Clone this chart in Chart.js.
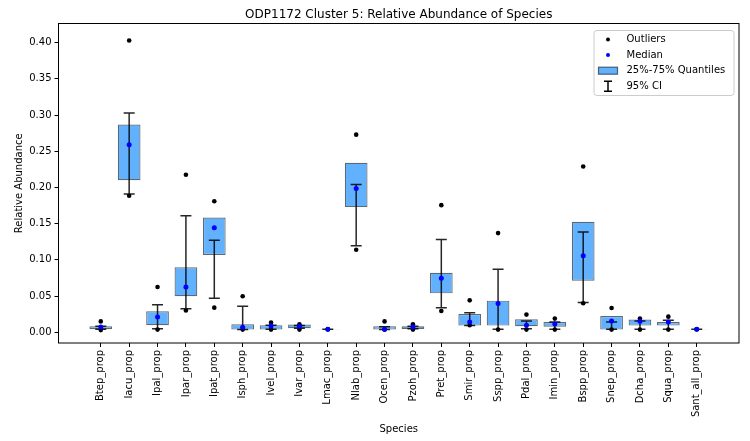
<!DOCTYPE html>
<html>
<head>
<meta charset="utf-8">
<script src="https://cdn.jsdelivr.net/npm/chart.js@4"></script>
<style>
  html, body { margin: 0; padding: 0; background: #fff; }
  #wrap { width: 750px; height: 441px; }
</style>
</head>
<body>
<div id="wrap"><canvas id="chart" width="750" height="441"></canvas></div>
<script>
// species on the x axis
const species = ['Btep_prop', 'Iacu_prop', 'Ipal_prop', 'Ipar_prop', 'Ipat_prop', 'Isph_prop',
  'Ivel_prop', 'Ivar_prop', 'Lmac_prop', 'Nlab_prop', 'Ocen_prop', 'Pzoh_prop', 'Pret_prop',
  'Smir_prop', 'Sspp_prop', 'Pdal_prop', 'Imin_prop', 'Bspp_prop', 'Snep_prop', 'Dcha_prop',
  'Squa_prop', 'Sant_all_prop'];

// 25% / 75% quantiles (box)
const q25 = [0.0041, 0.210, 0.0097, 0.0497, 0.1067, 0.0037, 0.0037, 0.0055, 0.0039, 0.1729, 0.0037,
  0.0046, 0.0538, 0.0092, 0.0092, 0.0083, 0.0078, 0.0713, 0.0037, 0.0092, 0.0092, 0.0040];
const q75 = [0.0083, 0.287, 0.0290, 0.0897, 0.1586, 0.0110, 0.0097, 0.0106, 0.0042, 0.2340, 0.0083,
  0.0083, 0.0823, 0.0253, 0.0437, 0.0180, 0.0142, 0.1527, 0.0225, 0.0175, 0.0142, 0.0042];

// medians
const medians = [0.0073, 0.259, 0.0210, 0.0625, 0.1444, 0.0069, 0.0087, 0.0083, 0.0041, 0.1986, 0.0041,
  0.0073, 0.0745, 0.0142, 0.0396, 0.0097, 0.0115, 0.1058, 0.0156, 0.0152, 0.0142, 0.0041];

// 95% confidence interval
const ciLow = [0.0041, 0.191, 0.0050, 0.0326, 0.0469, 0.0037, 0.0041, 0.0055, 0.0041, 0.1195, 0.0037,
  0.0050, 0.0340, 0.0092, 0.0041, 0.0050, 0.0041, 0.0410, 0.0041, 0.0041, 0.0041, 0.0041];
const ciHigh = [0.0083, 0.303, 0.0380, 0.1610, 0.1270, 0.0360, 0.0097, 0.0095, 0.0041, 0.2040, 0.0075,
  0.0083, 0.1280, 0.0270, 0.0869, 0.0156, 0.0142, 0.1384, 0.0142, 0.0156, 0.0165, 0.0041];

// outliers (max and min per species)
const outlierHigh = [0.0150, 0.403, 0.0625, 0.2175, 0.181, 0.0497, 0.0134, 0.0110, 0.0041, 0.273, 0.0150,
  0.0110, 0.1756, 0.0441, 0.137, 0.0244, 0.0189, 0.229, 0.0336, 0.0189, 0.0216, 0.0041];
const outlierLow = [0.0030, 0.1885, 0.0037, 0.0300, 0.0340, 0.0037, 0.0037, 0.0037, 0.0041, 0.114, 0.0037,
  0.0037, 0.0294, 0.0097, 0.0037, 0.0037, 0.0037, 0.0400, 0.0037, 0.0037, 0.0037, 0.0041];

const yTicks = [0, 0.05, 0.10, 0.15, 0.20, 0.25, 0.30, 0.35, 0.40];

const boxFill = 'rgb(98,177,255)';
const boxEdge = 'rgba(40,55,70,0.75)';

Chart.defaults.font.family = 'DejaVu Sans';
Chart.defaults.font.size = 10;
Chart.defaults.color = '#000';

// error bars right after the boxes, frame and legend on top
const extras = {
  id: 'extras',
  afterDatasetDraw(chart, args) {
    if (chart.data.datasets[args.index].type !== 'bar') return;
    const { ctx } = chart;
    const x = chart.scales.x, y = chart.scales.y;
    ctx.save();
    ctx.strokeStyle = 'rgba(0,0,0,0.85)';
    ctx.lineWidth = 1.5;
    species.forEach((s, i) => {
      const px = x.getPixelForValue(i);
      const top = y.getPixelForValue(ciHigh[i]);
      const bot = y.getPixelForValue(ciLow[i]);
      ctx.beginPath();
      ctx.moveTo(px, top); ctx.lineTo(px, bot);
      ctx.moveTo(px - 5.5, top); ctx.lineTo(px + 5.5, top);
      ctx.moveTo(px - 5.5, bot); ctx.lineTo(px + 5.5, bot);
      ctx.stroke();
    });
    ctx.restore();
  },
  afterDraw(chart) {
    const { ctx, chartArea: a } = chart;
    ctx.save();
    ctx.strokeStyle = '#000';
    ctx.lineWidth = 1;
    ctx.strokeRect(a.left, a.top, a.right - a.left, a.bottom - a.top);

    // legend box
    const lx = a.right - 145, ly = a.top + 7, lw = 140, lh = 65;
    ctx.beginPath();
    ctx.roundRect(lx, ly, lw, lh, 3);
    ctx.fillStyle = 'rgba(255,255,255,0.8)';
    ctx.fill();
    ctx.strokeStyle = '#cccccc';
    ctx.stroke();

    const items = ['Outliers', 'Median', '25%-75% Quantiles', '95% CI'];
    const mx = lx + 14, tx = lx + 32.5;
    items.forEach((label, k) => {
      const cy = ly + 9 + k * 15.6;
      if (k === 0 || k === 1) {
        ctx.beginPath();
        ctx.arc(mx, cy, 2, 0, Math.PI * 2);
        ctx.fillStyle = k === 0 ? '#000' : '#0000ff';
        ctx.fill();
      } else if (k === 2) {
        ctx.fillStyle = boxFill;
        ctx.fillRect(mx - 9.5, cy - 3.5, 19, 7);
        ctx.strokeStyle = boxEdge;
        ctx.lineWidth = 1.2;
        ctx.strokeRect(mx - 9.5, cy - 3.5, 19, 7);
      } else {
        ctx.strokeStyle = '#000';
        ctx.lineWidth = 1.5;
        ctx.beginPath();
        ctx.moveTo(mx, cy - 5); ctx.lineTo(mx, cy + 5);
        ctx.moveTo(mx - 4, cy - 5); ctx.lineTo(mx + 4, cy - 5);
        ctx.moveTo(mx - 4, cy + 5); ctx.lineTo(mx + 4, cy + 5);
        ctx.stroke();
      }
      ctx.fillStyle = '#000';
      ctx.font = '10px "DejaVu Sans"';
      ctx.textAlign = 'left';
      ctx.textBaseline = 'middle';
      ctx.fillText(label, tx, cy);
    });
    ctx.restore();
  }
};

new Chart(document.getElementById('chart'), {
  type: 'bar',
  data: {
    datasets: [
      {
        type: 'bar',
        label: '25%-75% Quantiles',
        data: species.map((s, i) => ({ x: i, y: [q25[i], q75[i]] })),
        backgroundColor: boxFill,
        borderColor: boxEdge,
        borderWidth: 1.2,
        borderSkipped: false,
        barPercentage: 0.8,
        categoryPercentage: 1,
        order: 3
      },
      {
        type: 'scatter',
        label: 'Outliers',
        data: species.flatMap((s, i) => [{ x: i, y: outlierHigh[i] }, { x: i, y: outlierLow[i] }]),
        backgroundColor: '#000',
        borderWidth: 0,
        pointRadius: 2.3,
        order: 2
      },
      {
        type: 'scatter',
        label: 'Median',
        data: species.map((s, i) => ({ x: i, y: medians[i] })),
        backgroundColor: '#0000ff',
        borderWidth: 0,
        pointRadius: 2.5,
        order: 1
      }
    ]
  },
  options: {
    responsive: false,
    animation: false,
    layout: { padding: { left: 0, right: 11, top: 0, bottom: 0 } },
    plugins: {
      legend: { display: false },
      tooltip: { enabled: false },
      title: {
        display: true,
        text: 'ODP1172 Cluster 5: Relative Abundance of Species',
        fullSize: false,
        color: '#000',
        font: { size: 12, weight: 'normal' },
        padding: { top: 8, bottom: 1.1 }
      }
    },
    scales: {
      x: {
        type: 'linear',
        min: -1.49,
        max: 22.49,
        offset: false,
        afterBuildTicks: s => { s.ticks = species.map((n, i) => ({ value: i })); },
        afterFit: s => { s.height = 98; },
        ticks: { autoSkip: false, minRotation: 90, maxRotation: 90, padding: 3, callback: v => species[v] },
        grid: { drawOnChartArea: false, drawTicks: true, tickLength: 4, color: '#000', offset: false },
        border: { display: false },
        title: { display: true, text: 'Species', padding: { top: 4, bottom: 6 } }
      },
      y: {
        min: -0.0148,
        max: 0.4265,
        afterBuildTicks: s => { s.ticks = yTicks.map(v => ({ value: v })); },
        afterFit: s => { s.width = 58.5; },
        ticks: { padding: 3, callback: v => v.toFixed(2) },
        grid: { drawOnChartArea: false, drawTicks: true, tickLength: 4, color: '#000' },
        border: { display: false },
        title: { display: true, text: 'Relative Abundance', padding: { top: 13, bottom: 4 } }
      }
    }
  },
  plugins: [extras]
});
</script>
</body>
</html>
